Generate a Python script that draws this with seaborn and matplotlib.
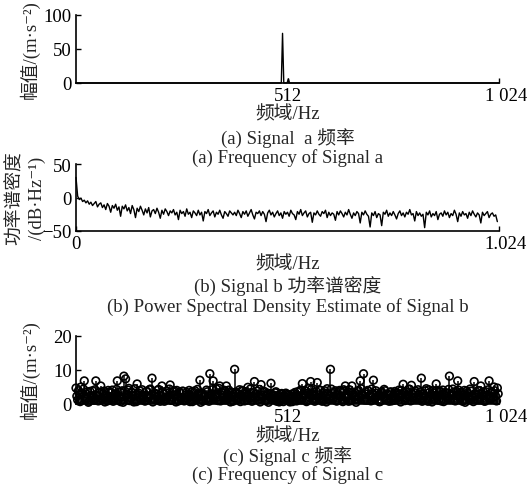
import numpy as np
import pandas as pd
import matplotlib
matplotlib.use("Agg")
import matplotlib.pyplot as plt
import matplotlib.transforms as mtransforms
import seaborn as sns

# ---- data -------------------------------------------------------------
# (a) amplitude spectrum of signal a: single dominant line near 500 Hz
freq_a = [0, 494, 497, 500, 503, 508, 511, 514, 517, 1024]
amp_a = [0, 0, 0, 73, 0, 0, 0, 6, 0, 0]

# (b) power spectral density of signal b, dB/Hz, sampled every 0.004
psd_b = [
    30, 2, -3, -1, -6, -4, -8, -5, -10, -7, -12, -9, -6, -14, -10, -8,
    -15, -11, -18, -9, -13, -22, -12, -16, -10, -19, -14, -28, -13, -17, -11, -20,
    -15, -24, -12, -18, -30, -16, -21, -13, -19, -26, -17, -23, -15, -29, -20, -18,
    -24, -16, -22, -31, -19, -25, -17, -21, -27, -20, -23, -18, -26, -22, -33, -19,
    -24, -21, -28, -17, -25, -22, -30, -20, -23, -27, -19, -26, -22, -35, -21, -24,
    -18, -27, -23, -20, -29, -22, -25, -19, -26, -31, -21, -24, -28, -20, -23, -26,
    -22, -27, -19, -24, -30, -21, -25, -20, -28, -23, -18, -26, -32, -22, -24, -20,
    -27, -21, -25, -36, -23, -19, -26, -22, -29, -24, -20, -27, -23, -31, -21, -25,
    -22, -28, -19, -24, -26, -33, -21, -25, -18, -27, -23, -20, -29, -24, -22, -37,
    -23, -26, -20, -25, -28, -21, -24, -19, -30, -22, -27, -23, -25, -34, -21, -26,
    -20, -24, -29, -22, -26, -18, -25, -31, -23, -27, -21, -24, -38, -22, -26, -20,
    -25, -28, -44, -23, -27, -21, -30, -24, -26, -42, -22, -25, -19, -28, -23, -27,
    -21, -26, -32, -24, -20, -27, -23, -29, -22, -25, -18, -26, -24, -35, -21, -27,
    -23, -28, -25, -45, -22, -26, -20, -29, -24, -27, -21, -33, -25, -23, -28, -20,
    -26, -22, -30, -24, -27, -19, -25, -36, -23, -28, -21, -26, -24, -31, -22, -27,
    -20, -25, -29, -23, -26, -38, -22, -27, -24, -21, -30, -25, -23, -28, -26, -36,
]
freq_b = [round(0.004 * i, 3) for i in range(len(psd_b))]

# (c) amplitude spectrum of signal c, bins 0, 4, 8, ... Hz
amp_c_even = [
    4.7, 1.2, 2.8, 5.0, 3.1, 6.8, 1.5, 3.6, 0.8, 2.4, 3.9, 1.1, 6.8, 2.2, 3.3, 5.3,
    1.4, 3.8, 2.6, 0.9, 3.5, 2.1, 4.1, 1.7, 3.0, 6.8, 2.3, 0.7, 3.9, 8.2, 7.4, 2.8,
    4.6, 1.9, 3.4, 0.6, 2.7, 5.9, 3.2, 1.3, 4.2, 2.5, 0.9, 3.7, 2.0, 4.4, 7.6, 1.6,
    3.1, 2.2, 4.3, 0.8, 5.3, 2.9, 1.5, 3.8, 2.4, 5.6, 1.1, 3.5, 2.7, 4.0, 0.9, 3.3,
    2.0, 3.7, 1.2, 3.4, 2.6, 0.7, 3.6, 2.1, 3.9, 1.4, 2.8, 7.0, 3.2, 0.9, 2.5, 4.1,
    1.8, 8.9, 3.0, 6.8, 2.2, 4.4, 1.0, 5.3, 3.3, 2.0, 4.0, 5.3, 1.6, 3.5, 2.7, 0.8,
    10.2, 3.1, 1.9, 4.2, 2.4, 3.8, 0.9, 2.9, 4.9, 1.7, 3.4, 2.3, 6.6, 3.0, 1.2, 4.3,
    5.7, 2.6, 3.7, 1.0, 3.2, 2.1, 6.1, 2.8, 1.5, 3.6, 2.2, 0.6, 2.9, 1.8, 2.5, 3.2,
    1.1, 2.7, 2.0, 0.7, 3.0, 2.4, 3.6, 1.3, 4.1, 6.0, 2.5, 3.8, 1.0, 4.6, 6.6, 2.9,
    3.5, 1.4, 6.3, 2.7, 4.0, 0.8, 3.3, 2.2, 4.5, 1.6, 10.2, 3.1, 2.0, 3.9, 0.9, 2.6,
    3.7, 1.2, 4.2, 5.3, 2.4, 0.8, 3.5, 5.3, 2.0, 3.3, 1.5, 4.0, 6.8, 2.6, 8.9, 3.0,
    1.1, 3.8, 2.3, 4.4, 7.0, 1.7, 3.2, 2.5, 0.7, 3.6, 2.1, 3.9, 1.4, 2.8, 3.4, 0.9,
    2.4, 3.7, 1.6, 3.1, 2.2, 4.0, 5.8, 1.0, 3.5, 2.6, 4.3, 5.5, 1.8, 3.3, 2.0, 4.2,
    1.3, 7.6, 3.0, 2.3, 4.5, 0.8, 3.4, 2.7, 3.9, 1.5, 5.9, 2.4, 3.6, 0.9, 4.1, 2.8,
    3.3, 1.7, 8.2, 2.5, 4.4, 1.1, 3.7, 6.8, 2.2, 3.5, 0.8, 4.0, 2.6, 3.2, 1.4, 3.8,
    2.1, 6.6, 3.0, 1.2, 3.9, 5.3, 2.4, 0.9, 3.6, 2.7, 6.8, 1.8, 3.4, 5.0, 2.3, 4.7,
]
# (c) amplitude spectrum of signal c, bins 2, 6, 10, ... Hz
amp_c_odd = [
    2.3, 3.9, 0.7, 3.2, 4.4, 1.8, 2.9, 0.5, 3.7, 2.1, 1.3, 4.2, 2.6, 0.9, 3.5, 1.6,
    3.1, 0.6, 2.4, 4.0, 1.9, 3.3, 0.8, 2.7, 4.3, 1.2, 3.6, 2.0, 0.5, 3.8, 2.5, 4.1,
    1.0, 3.4, 2.2, 4.5, 0.7, 2.8, 3.9, 1.5, 2.3, 0.9, 3.7, 1.9, 4.2, 2.6, 0.6, 3.1,
    2.9, 4.1, 1.4, 2.5, 3.6, 0.8, 3.2, 2.0, 4.4, 1.1, 2.7, 3.9, 0.6, 2.3, 3.5, 1.7,
    3.8, 0.9, 2.6, 1.5, 4.0, 2.2, 0.7, 3.4, 1.8, 4.3, 2.9, 0.5, 3.1, 2.4, 1.3, 3.6,
    0.8, 2.7, 4.2, 1.6, 3.0, 2.1, 4.6, 0.9, 2.5, 3.7, 1.2, 2.8, 4.1, 0.6, 3.3, 2.0,
    3.5, 1.4, 2.9, 0.7, 4.0, 2.3, 3.6, 1.1, 2.6, 4.4, 0.8, 3.2, 1.9, 3.8, 2.4, 0.6,
    2.1, 3.4, 1.0, 2.7, 0.5, 3.0, 1.7, 2.4, 3.3, 0.8, 2.6, 1.5, 3.1, 0.7, 2.2, 2.8,
    1.6, 0.6, 2.9, 2.1, 3.4, 0.9, 2.3, 3.7, 1.2, 2.8, 4.0, 0.7, 3.2, 1.9, 4.3, 2.5,
    0.8, 3.6, 2.0, 4.1, 1.3, 2.7, 3.9, 0.6, 3.0, 2.2, 4.4, 1.5, 3.4, 0.9, 2.6, 4.0,
    2.3, 0.7, 3.8, 1.7, 2.9, 4.2, 1.0, 3.3, 2.5, 0.5, 3.7, 1.9, 4.5, 2.8, 1.2, 3.5,
    4.0, 2.4, 0.9, 3.1, 1.6, 3.9, 2.2, 0.7, 3.4, 2.7, 4.3, 1.3, 2.9, 0.8, 3.6, 2.0,
    1.1, 3.3, 2.6, 4.1, 0.6, 2.8, 3.5, 1.8, 2.4, 4.4, 0.9, 3.0, 2.1, 3.8, 1.4, 2.7,
    3.6, 0.8, 2.3, 3.9, 1.5, 4.2, 2.0, 0.6, 3.2, 2.5, 4.0, 1.1, 3.7, 2.9, 0.7, 3.3,
    2.2, 4.3, 1.3, 2.8, 3.5, 0.9, 2.4, 4.1, 1.7, 3.0, 2.6, 0.5, 3.8, 1.9, 4.4, 2.3,
    0.7, 3.1, 2.5, 4.0, 1.2, 2.9, 3.6, 0.8, 2.2, 4.2, 1.6, 3.4, 2.0, 3.9, 0.9, 3.0,
]
spec_c = pd.DataFrame({
    "freq": [4 * i for i in range(len(amp_c_even))] + [4 * i + 2 for i in range(len(amp_c_odd))],
    "amp": amp_c_even + amp_c_odd,
}).sort_values("freq")

ticks_a = [512, 1024]
ticklabels_a = ["512", "1 024"]
ticks_b = [0, 1.024]
ticklabels_b = ["0", "1.024"]

# ---- style ------------------------------------------------------------
sns.set_style("ticks")
plt.rcParams["font.family"] = ["Liberation Serif", "Noto Sans CJK SC", "DejaVu Serif"]
plt.rcParams["axes.unicode_minus"] = True
FS = 13.5

W, H = 527, 489
fig = plt.figure(figsize=(W / 100, H / 100), dpi=100)


def add_ax(left, right, top, bottom):
    return fig.add_axes([left / W, 1 - bottom / H, (right - left) / W, (bottom - top) / H])


def style(ax):
    sns.despine(ax=ax)
    for s in ("left", "bottom"):
        ax.spines[s].set_linewidth(1.2)
        ax.spines[s].set_color("black")
    ax.tick_params(direction="in", length=3.5, width=1.0, colors="black",
                   labelsize=FS, pad=3)
    ax.set_xlabel("")
    ax.set_ylabel("")
    # the right-end frequency label sits slightly past the axis end
    last = ax.get_xticklabels()[-1]
    last.set_transform(last.get_transform()
                       + mtransforms.ScaledTranslation(7 / 100, 0, fig.dpi_scale_trans))


def ftext(x, y, s, **kw):
    kw.setdefault("ha", "center")
    kw.setdefault("va", "center")
    kw.setdefault("fontsize", FS)
    fig.text(x / W, 1 - y / H, s, **kw)


xc = (76 + 499) / 2

# (a)
ax_a = add_ax(76, 499, 16, 84)
sns.lineplot(x=freq_a, y=amp_a, ax=ax_a, color="black", linewidth=1.0)
ax_a.set_xlim(0, 1024)
ax_a.set_ylim(0, 100)
ax_a.set_yticks([0, 50, 100])
ax_a.set_xticks(ticks_a)
ax_a.set_xticklabels(ticklabels_a)
style(ax_a)
ftext(30, 50, "幅值/(m·s⁻²)", rotation=90)
ftext(xc, 115, "频域/Hz")
ftext(xc, 138, "(a) Signal  a 频率")
ftext(xc, 158, "(a) Frequency of Signal a")

# (b)
ax_b = add_ax(76, 499, 165, 232)
sns.lineplot(x=freq_b, y=psd_b, ax=ax_b, color="black", linewidth=1.0)
ax_b.set_xlim(0, 1.024)
ax_b.set_ylim(-50, 50)
ax_b.set_yticks([-50, 0, 50])
ax_b.set_xticks(ticks_b)
ax_b.set_xticklabels(ticklabels_b)
style(ax_b)
ftext(15, 198, "功率谱密度", rotation=90)
ftext(37, 198, "/(dB·Hz⁻¹)", rotation=90)
ftext(xc, 265, "频域/Hz")
ftext(xc, 287, "(b) Signal b 功率谱密度")
ftext(xc, 307, "(b) Power Spectral Density Estimate of Signal b")

# (c)
ax_c = add_ax(76, 499, 337, 405)
ax_c.vlines(spec_c["freq"], 0, spec_c["amp"], color="black", linewidth=1.1)
sns.scatterplot(data=spec_c, x="freq", y="amp", ax=ax_c, marker="o", s=30,
                facecolor="none", edgecolor="black", linewidth=1.2)
ax_c.set_xlim(0, 1024)
ax_c.set_ylim(0, 20)
ax_c.set_yticks([0, 10, 20])
ax_c.set_xticks(ticks_a)
ax_c.set_xticklabels(ticklabels_a)
style(ax_c)
for a in (ax_a, ax_b, ax_c):
    for c in a.collections:
        c.set_clip_on(False)
    for l in a.lines:
        l.set_clip_on(False)
ftext(30, 370, "幅值/(m·s⁻²)", rotation=90)
ftext(xc, 437, "频域/Hz")
ftext(xc, 456, "(c) Signal c 频率")
ftext(xc, 475, "(c) Frequency of Signal c")

fig.savefig("out.png", dpi=100, facecolor="white")
